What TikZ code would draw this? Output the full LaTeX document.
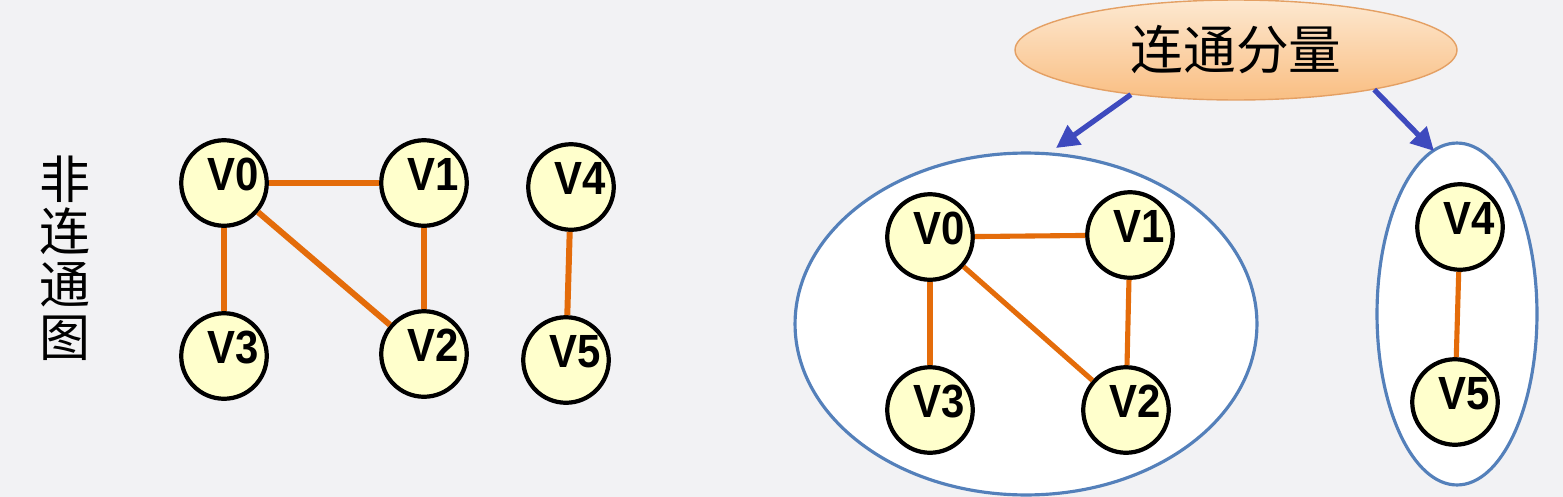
\documentclass[tikz,border=0pt]{standalone}
\usepackage{fontspec}
\setmainfont{Liberation Sans}
\newfontfamily\cjk{Noto Sans CJK SC}
\usepackage{tikz}
\usetikzlibrary{
  shapes.geometric
  , arrows.meta
  , calc
}
\definecolor{bgcol}{RGB}{242,242,244}
\definecolor{vyellow}{RGB}{255,255,204}
\definecolor{edgeorange}{RGB}{228,108,10}
\definecolor{arrowblue}{RGB}{62,74,190}
\definecolor{ringblue}{RGB}{84,128,186}
\definecolor{peachtop}{RGB}{253,232,208}
\definecolor{peachbot}{RGB}{249,190,130}
\definecolor{peachline}{RGB}{228,160,100}
\tikzset{
  vtx/.style={circle,
    draw=black,
    line width=2.4pt,
    fill=vyellow,
    minimum size=1.68cm,
    inner sep=0pt,
    text height=19pt,
    text depth=10pt,
    font=\bfseries\addfontfeature{FakeStretch=0.9}\fontsize{26.5}{26.5}\selectfont,
    execute at begin node={\hspace*{10pt}}},
  edg/.style={draw=edgeorange, line width=3.4pt},
  edgr/.style={draw=edgeorange, line width=2.9pt},
  ring/.style={ellipse, draw=ringblue, line width=1.8pt, fill=white, inner sep=0pt},
  arr/.style={draw=arrowblue, line width=3pt, -{Triangle[length=13pt,width=13pt]}}
}
\begin{document}
\begin{tikzpicture}[x=0.02cm, y=-0.02cm]
      \fill[bgcol] (0,0) rectangle (1563,497);
      \useasboundingbox (0,0) rectangle (1563,497);

      % left: the graph that is not connected
      \node [align=center,
        font=\cjk\fontsize{29}{30}\selectfont] (title) at (65,258) {非\\连\\通\\图};

      \node [vtx] (A0) at (224,183) {V0};
      \node [vtx] (A1) at (424,183) {V1};
      \node [vtx] (A3) at (224,356) {V3};
      \node [vtx] (A2) at (424,354) {V2};
      \node [vtx] (A4) at (571,187) {V4};
      \node [vtx] (A5) at (566,360) {V5};
      \draw [edg] (A0) -- (A1);
      \draw [edg] (A0) -- (A3);
      \draw [edg] (A0) -- (A2);
      \draw [edg] (A1) -- (A2);
      \draw [edg] (A4) -- (A5);

      % right: the components
      \node [ellipse,
        shade, top color=peachtop, bottom color=peachbot,
        draw=peachline, line width=0.8pt,
        minimum width=8.84cm, minimum height=2cm,
        font=\cjk\fontsize{30}{30}\selectfont] (cc) at (1236,50) {连通分量};

      \node [ring, minimum width=9.24cm, minimum height=6.84cm] (comp1) at (1026,324) {};
      \node [ring, minimum width=3.2cm, minimum height=6.84cm] (comp2) at (1457,314) {};

      \coordinate (c1tip) at (1056,148);
      \coordinate (c2tip) at (1434,151);
      \draw [arr] (cc.203) -- (c1tip);
      \draw [arr] (cc.-16) -- (c2tip);

      \node [vtx] (B0) at (930,237) {V0};
      \node [vtx] (B1) at (1130,235) {V1};
      \node [vtx] (B3) at (930,410) {V3};
      \node [vtx] (B2) at (1126,410) {V2};
      \node [vtx] (B4) at (1460,227) {V4};
      \node [vtx] (B5) at (1455,402) {V5};
      \draw [edgr] (B0) -- (B1);
      \draw [edgr] (B0) -- (B3);
      \draw [edgr] (B0) -- (B2);
      \draw [edgr] (B1) -- (B2);
      \draw [edgr] (B4) -- (B5);
\end{tikzpicture}
\end{document}
